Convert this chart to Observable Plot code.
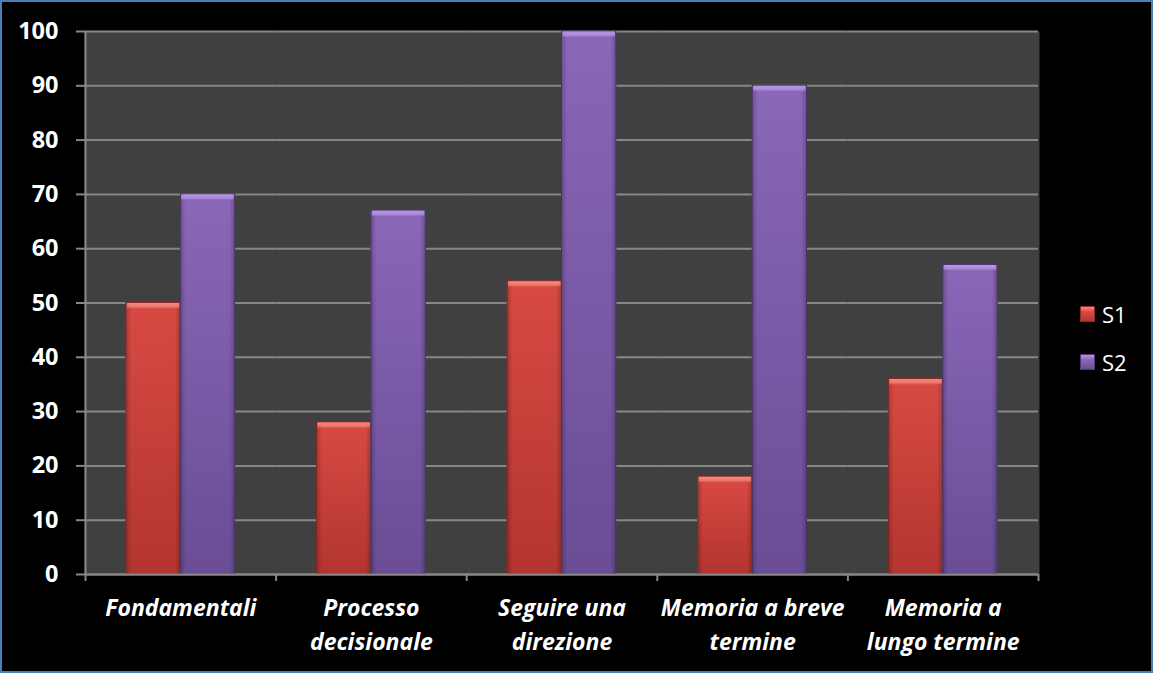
<!DOCTYPE html>
<html>
<head>
<meta charset="utf-8">
<script src="https://cdn.jsdelivr.net/npm/d3@7"></script>
<script src="https://cdn.jsdelivr.net/npm/@observablehq/plot@0.6"></script>
<style>
  html, body { margin: 0; padding: 0; background: #000; }
  #chart { position: relative; width: 1153px; height: 673px; background: #000; overflow: hidden; }
  #chart svg { position: absolute; left: 0; top: 0; }
  #border { position: absolute; inset: 0; border: 2px solid #4a7ebb; box-sizing: border-box; pointer-events: none; }
  .legend { position: absolute; left: 1080px; top: 290px; font-family: "Open Sans", sans-serif; font-size: 22px; color: #fff; }
  .legend .item { display: flex; align-items: center; height: 48px; }
  .legend .swatch { width: 15px; height: 16px; margin-right: 7px; box-sizing: border-box; }
</style>
</head>
<body>
<div id="chart"></div>
<script>
// Categories (multi-line labels split on \n), series and values
const categories = [
  "Fondamentali",
  "Processo\ndecisionale",
  "Seguire una\ndirezione",
  "Memoria a breve\ntermine",
  "Memoria a\nlungo termine"
];
const seriesNames = ["S1", "S2"];
const s1Values = [50, 28, 54, 18, 36];
const s2Values = [70, 67, 100, 90, 57];
const yTicks = [0, 10, 20, 30, 40, 50, 60, 70, 80, 90, 100];

// Gradient stops per series: [top, bottom, edge stroke, bevel light]
const seriesPalette = {
  S1: ["#d84a44", "#b3352f", "#8e2a26", "#f58a80"],
  S2: ["#8a67b8", "#6a4d95", "#4f3a72", "#b898e6"]
};

const rows = categories.flatMap((category, i) => [
  {category, series: "S1", value: s1Values[i]},
  {category, series: "S2", value: s2Values[i]}
]);

const width = 1153, height = 673;
const marginLeft = 85, marginRight = 115, marginTop = 31, marginBottom = 99;
const step = (width - marginLeft - marginRight) / categories.length;
const axisGray = "#878787";

const barMarks = seriesNames.flatMap((s) => {
  const data = rows.filter((d) => d.series === s);
  return [
    Plot.barY(data, {fx: "category", x: "series", y: "value", fill: `url(#bar-${s})`, stroke: seriesPalette[s][2], strokeWidth: 1}),
    Plot.barY(data, {fx: "category", x: "series", y: "value", fill: "url(#bar-edge)"}),
    Plot.barY(data, {fx: "category", x: "series", y1: "value", y2: "value", insetTop: 0.5, insetBottom: -7, insetLeft: 1, insetRight: 1, fill: `url(#bevel-${s})`})
  ];
});

const plot = Plot.plot({
  width, height, marginLeft, marginRight, marginTop, marginBottom,
  style: {background: "transparent", color: "#fff", fontFamily: "'Open Sans', sans-serif", overflow: "visible"},
  fx: {domain: categories, padding: 0, round: false, label: null},
  x: {domain: seriesNames, paddingInner: 0, paddingOuter: 0.75, round: false, axis: null},
  y: {domain: [0, 100], label: null},
  marks: [
    // plot background; slight overlap hides seams between category panels
    Plot.frame({fill: "#404040", insetLeft: -1, insetRight: -1}),
    Plot.gridY(yTicks, {stroke: axisGray, strokeOpacity: 1, strokeWidth: 2}),
    ...barMarks,
    Plot.ruleY([0], {stroke: axisGray, strokeWidth: 2}),
    // vertical value axis line on the first category
    Plot.ruleX([categories[0]], {fx: (d) => d, x: null, dx: -step / 2, y1: 0, y2: 100, stroke: axisGray, strokeWidth: 2}),
    // category boundary ticks below the baseline
    Plot.ruleX(categories, {fx: (d) => d, x: null, dx: -step / 2, y1: 0, y2: 0, insetBottom: -7, stroke: axisGray, strokeWidth: 2}),
    Plot.ruleX([categories[categories.length - 1]], {fx: (d) => d, x: null, dx: step / 2, y1: 0, y2: 0, insetBottom: -7, stroke: axisGray, strokeWidth: 2}),
    Plot.axisY(yTicks, {tickSize: 9, tickPadding: 18, stroke: axisGray, strokeWidth: 2, fill: "#fff", fontSize: 23.5, fontWeight: "bold", label: null}),
    Plot.axisFx({anchor: "bottom", tickSize: 0, tickPadding: 18, fill: "#fff", fontSize: 23, fontWeight: "bold", fontStyle: "italic", lineHeight: 1.45, label: null})
  ]
});

// Gradient definitions used by the bar fills
const defs = d3.select(plot).insert("defs", ":first-child");
for (const s of seriesNames) {
  const [top, bottom, , light] = seriesPalette[s];
  const g = defs.append("linearGradient").attr("id", `bar-${s}`).attr("x1", 0).attr("y1", 0).attr("x2", 0).attr("y2", 1);
  g.append("stop").attr("offset", 0).attr("stop-color", top);
  g.append("stop").attr("offset", 1).attr("stop-color", bottom);
  const b = defs.append("linearGradient").attr("id", `bevel-${s}`).attr("x1", 0).attr("y1", 0).attr("x2", 0).attr("y2", 1);
  b.append("stop").attr("offset", 0).attr("stop-color", light);
  b.append("stop").attr("offset", 0.6).attr("stop-color", light).attr("stop-opacity", 0.7);
  b.append("stop").attr("offset", 1).attr("stop-color", top).attr("stop-opacity", 0);
}
const edge = defs.append("linearGradient").attr("id", "bar-edge").attr("x1", 0).attr("y1", 0).attr("x2", 1).attr("y2", 0);
edge.append("stop").attr("offset", 0).attr("stop-color", "#000").attr("stop-opacity", 0.22);
edge.append("stop").attr("offset", 0.1).attr("stop-color", "#000").attr("stop-opacity", 0);
edge.append("stop").attr("offset", 0.9).attr("stop-color", "#000").attr("stop-opacity", 0);
edge.append("stop").attr("offset", 1).attr("stop-color", "#000").attr("stop-opacity", 0.22);

const chart = document.getElementById("chart");
chart.appendChild(plot);

// Series legend on the right
const legend = d3.select(chart).append("div").attr("class", "legend");
for (const s of seriesNames) {
  const [top, bottom, stroke, light] = seriesPalette[s];
  const item = legend.append("div").attr("class", "item");
  item.append("div").attr("class", "swatch")
    .style("background", `linear-gradient(to bottom, ${light} 0%, ${top} 35%, ${bottom} 100%)`)
    .style("border", `1px solid ${stroke}`);
  item.append("span").text(s);
}
d3.select(chart).append("div").attr("id", "border");
</script>
</body>
</html>
